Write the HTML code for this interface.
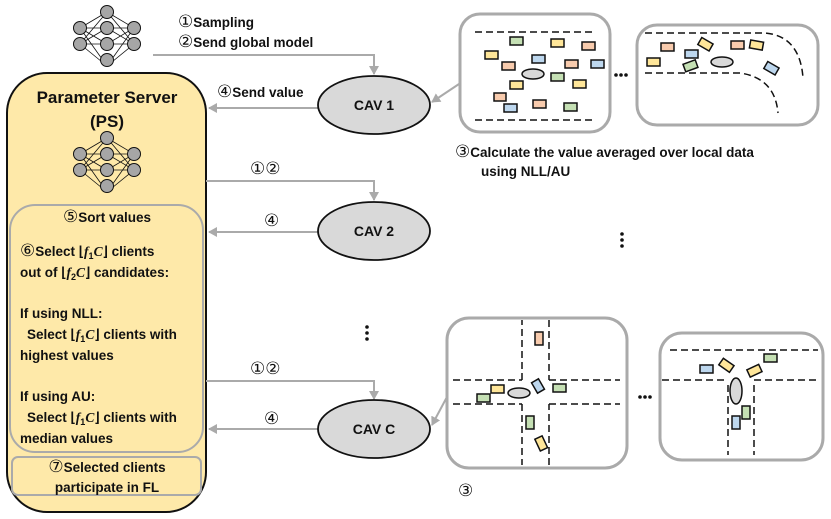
<!DOCTYPE html>
<html><head><meta charset="utf-8"><style>
html,body{margin:0;padding:0;background:#fff;}
svg{display:block;}
text{font-family:"Liberation Sans",sans-serif;font-weight:bold;fill:#111;}
.m{font-family:"Liberation Serif",serif;font-style:italic;}
.c{font-family:"DejaVu Sans",sans-serif;font-weight:normal;font-size:17px;}
</style></head><body>
<svg width="831" height="519" viewBox="0 0 831 519" xmlns="http://www.w3.org/2000/svg">
<defs>
<marker id="ah" markerWidth="10" markerHeight="10" refX="8" refY="5" orient="auto" markerUnits="userSpaceOnUse">
<path d="M0,0 L9,5 L0,10 Z" fill="#aaa"/></marker>
<g id="nn" stroke="#111" stroke-width="1">
<g stroke-width="0.8">
<line x1="0" y1="-27" x2="-27" y2="-11"/><line x1="0" y1="-27" x2="-27" y2="5"/><line x1="0" y1="-27" x2="27" y2="-11"/><line x1="0" y1="-27" x2="27" y2="5"/>
<line x1="0" y1="27" x2="-27" y2="-11"/><line x1="0" y1="27" x2="-27" y2="5"/><line x1="0" y1="27" x2="27" y2="-11"/><line x1="0" y1="27" x2="27" y2="5"/>
<line x1="-27" y1="-11" x2="0" y2="-11"/><line x1="-27" y1="-11" x2="0" y2="5"/><line x1="-27" y1="5" x2="0" y2="-11"/><line x1="-27" y1="5" x2="0" y2="5"/>
<line x1="27" y1="-11" x2="0" y2="-11"/><line x1="27" y1="-11" x2="0" y2="5"/><line x1="27" y1="5" x2="0" y2="-11"/><line x1="27" y1="5" x2="0" y2="5"/>
</g>
<g fill="#a6a6a6">
<circle cx="0" cy="-27" r="6.5"/><circle cx="0" cy="-11" r="6.5"/><circle cx="0" cy="5" r="6.5"/><circle cx="0" cy="21" r="6.5"/>
<circle cx="-27" cy="-11" r="6.5"/><circle cx="-27" cy="5" r="6.5"/><circle cx="27" cy="-11" r="6.5"/><circle cx="27" cy="5" r="6.5"/>
</g></g>
</defs>

<rect x="7" y="73" width="199" height="439" rx="40" fill="#fee9a9" stroke="#111" stroke-width="2"/>
<rect x="10" y="205" width="193" height="247" rx="25" fill="none" stroke="#aaa" stroke-width="2"/>
<rect x="12" y="457" width="189" height="38" rx="6" fill="none" stroke="#aaa" stroke-width="2"/>
<use href="#nn" x="107" y="39"/>
<use href="#nn" x="107" y="165"/>
<text x="107" y="103" font-size="17" text-anchor="middle">Parameter Server</text>
<text x="107" y="127" font-size="17" text-anchor="middle">(PS)</text>

<g font-size="13.5">
<text x="107" y="222" text-anchor="middle"><tspan class="c">⑤</tspan>Sort values</text>
<text x="20" y="256"><tspan class="c">⑥</tspan>Select ⌊<tspan class="m">f</tspan><tspan font-size="9" dy="3">1</tspan><tspan class="m" dy="-3">C</tspan>⌋ clients</text>
<text x="20" y="277">out of ⌊<tspan class="m">f</tspan><tspan font-size="9" dy="3">2</tspan><tspan class="m" dy="-3">C</tspan>⌋ candidates:</text>
<text x="20" y="318">If using NLL:</text>
<text x="27" y="339">Select ⌊<tspan class="m">f</tspan><tspan font-size="9" dy="3">1</tspan><tspan class="m" dy="-3">C</tspan>⌋ clients with</text>
<text x="20" y="360">highest values</text>
<text x="20" y="401">If using AU:</text>
<text x="27" y="422">Select ⌊<tspan class="m">f</tspan><tspan font-size="9" dy="3">1</tspan><tspan class="m" dy="-3">C</tspan>⌋ clients with</text>
<text x="20" y="443">median values</text>
<text x="107" y="472" text-anchor="middle"><tspan class="c">⑦</tspan>Selected clients</text>
<text x="107" y="492" text-anchor="middle">participate in FL</text>
</g>

<g stroke="#aaa" stroke-width="2" fill="none">
<polyline points="153,55 374,55 374,74" marker-end="url(#ah)"/>
<line x1="318" y1="108" x2="209" y2="108" marker-end="url(#ah)"/>
<polyline points="206,181 374,181 374,200" marker-end="url(#ah)"/>
<line x1="318" y1="232" x2="209" y2="232" marker-end="url(#ah)"/>
<polyline points="206,381 374,381 374,399" marker-end="url(#ah)"/>
<line x1="318" y1="429" x2="209" y2="429" marker-end="url(#ah)"/>
<line x1="462" y1="82" x2="432" y2="102" marker-end="url(#ah)"/>
<line x1="448" y1="395" x2="432" y2="425" marker-end="url(#ah)"/>
</g>

<g font-size="13.5">
<text x="178" y="27"><tspan class="c">①</tspan>Sampling</text>
<text x="178" y="47"><tspan class="c">②</tspan>Send global model</text>
<text x="217" y="97"><tspan class="c">④</tspan>Send value</text>
<text x="250" y="174"><tspan class="c">①②</tspan></text>
<text x="264" y="226"><tspan class="c">④</tspan></text>
<text x="250" y="374"><tspan class="c">①②</tspan></text>
<text x="264" y="424"><tspan class="c">④</tspan></text>
<text x="455" y="157"><tspan class="c">③</tspan>Calculate the value averaged over local data</text>
<text x="481" y="176">using NLL/AU</text>
<text x="458" y="496"><tspan class="c">③</tspan></text>
</g>

<g fill="#d9d9d9" stroke="#111" stroke-width="1.8">
<ellipse cx="374" cy="105" rx="56" ry="29"/>
<ellipse cx="374" cy="231" rx="56" ry="29"/>
<ellipse cx="374" cy="429" rx="56" ry="29"/>
</g>
<g font-size="14" text-anchor="middle">
<text x="374" y="110">CAV 1</text>
<text x="374" y="236">CAV 2</text>
<text x="374" y="434">CAV C</text>
</g>
<g fill="#111">
<circle cx="367" cy="327" r="1.8"/><circle cx="367" cy="333" r="1.8"/><circle cx="367" cy="339" r="1.8"/>
<circle cx="622" cy="234" r="1.8"/><circle cx="622" cy="240" r="1.8"/><circle cx="622" cy="246" r="1.8"/>
<circle cx="616" cy="75" r="1.8"/><circle cx="621" cy="75" r="1.8"/><circle cx="626" cy="75" r="1.8"/>
<circle cx="640" cy="397" r="1.8"/><circle cx="645" cy="397" r="1.8"/><circle cx="650" cy="397" r="1.8"/>
</g>

<g fill="#fff" stroke="#aaa" stroke-width="3">
<rect x="460" y="14" width="150" height="118" rx="20"/>
<rect x="637" y="25" width="181" height="100" rx="20"/>
<rect x="447" y="318" width="180" height="150" rx="22"/>
<rect x="660" y="333" width="163" height="127" rx="22"/>
</g>
<g stroke="#111" stroke-width="1.5" fill="none" stroke-dasharray="7,4">
<line x1="475" y1="32" x2="596" y2="32"/><line x1="475" y1="120" x2="596" y2="120"/>
<path d="M645,33 L765,33 Q800,36 803,78"/>
<path d="M645,73 L740,73 Q775,78 778,113"/>
<line x1="453" y1="380" x2="522" y2="380"/><line x1="522" y1="380" x2="522" y2="320"/>
<line x1="549" y1="320" x2="549" y2="380"/><line x1="549" y1="380" x2="620" y2="380"/>
<line x1="453" y1="404" x2="522" y2="404"/><line x1="522" y1="404" x2="522" y2="465"/>
<line x1="549" y1="465" x2="549" y2="404"/><line x1="549" y1="404" x2="620" y2="404"/>
<line x1="670" y1="350" x2="818" y2="350"/>
<line x1="662" y1="380" x2="728" y2="380"/><line x1="754" y1="380" x2="818" y2="380"/>
<line x1="728" y1="385" x2="728" y2="455"/><line x1="754" y1="385" x2="754" y2="455"/>
</g>
<g stroke="#111" stroke-width="1.5">
<g fill="#c5e0b4"><rect x="510" y="37" width="13" height="8"/><rect x="551" y="73" width="13" height="8"/><rect x="564" y="103" width="13" height="8"/><rect x="477" y="394" width="13" height="8"/><rect x="553" y="384" width="13" height="8"/><rect x="526" y="416" width="8" height="13"/><rect x="764" y="354" width="13" height="8"/><rect x="742" y="406" width="8" height="13"/><rect x="684" y="62" width="13" height="8" transform="rotate(-20 690 66)"/></g>
<g fill="#ffe699"><rect x="551" y="39" width="13" height="8"/><rect x="485" y="51" width="13" height="8"/><rect x="510" y="81" width="13" height="8"/><rect x="573" y="80" width="13" height="8"/><rect x="647" y="58" width="13" height="8"/><rect x="491" y="385" width="13" height="8"/><rect x="699" y="40" width="13" height="8" transform="rotate(30 705 44)"/><rect x="720" y="361" width="13" height="8" transform="rotate(35 726 365)"/><rect x="537" y="437" width="8" height="13" transform="rotate(-25 541 443)"/><rect x="748" y="367" width="13" height="8" transform="rotate(-25 754 371)"/><rect x="750" y="41" width="13" height="8" transform="rotate(10 756 45)"/></g>
<g fill="#f8cbad"><rect x="582" y="42" width="13" height="8"/><rect x="502" y="62" width="13" height="8"/><rect x="565" y="60" width="13" height="8"/><rect x="533" y="100" width="13" height="8"/><rect x="494" y="93" width="12" height="8"/><rect x="661" y="43" width="13" height="8"/><rect x="731" y="41" width="13" height="8"/><rect x="535" y="332" width="8" height="13"/></g>
<g fill="#bdd7ee"><rect x="532" y="55" width="13" height="8"/><rect x="591" y="60" width="13" height="8"/><rect x="504" y="104" width="13" height="8"/><rect x="685" y="50" width="13" height="8"/><rect x="765" y="64" width="13" height="8" transform="rotate(30 771 68)"/><rect x="700" y="365" width="13" height="8"/><rect x="732" y="416" width="8" height="13"/><rect x="534" y="380" width="8" height="12" transform="rotate(-30 538 386)"/></g>
<g fill="#d9d9d9"><ellipse cx="533" cy="74" rx="11" ry="5"/><ellipse cx="722" cy="62" rx="11" ry="5"/><ellipse cx="519" cy="393" rx="11" ry="5"/><ellipse cx="736" cy="391" rx="6" ry="13"/></g>
</g>
</svg>
</body></html>
